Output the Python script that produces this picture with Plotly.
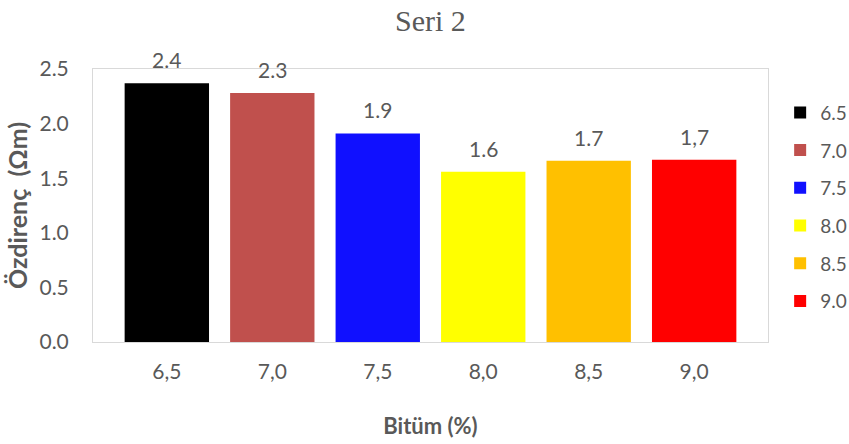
import plotly.graph_objects as go

# Bitumen content (%) categories and measured resistivity values
categories = ["6,5", "7,0", "7,5", "8,0", "8,5", "9,0"]
series_names = ["6.5", "7.0", "7.5", "8.0", "8.5", "9.0"]
resistivity = [2.37, 2.28, 1.91, 1.56, 1.66, 1.67]
value_labels = ["2.4", "2.3", "1.9", "1.6", "1.7", "1,7"]
colors = ["#000000", "#C0504D", "#1010FF", "#FFFF00", "#FFC000", "#FF0000"]

FONT = "Lato, Calibri, Carlito, sans-serif"
GREY = "#595959"

fig = go.Figure()
for cat, name, val, col in zip(categories, series_names, resistivity, colors):
    fig.add_trace(go.Bar(
        x=[cat], y=[val], name=name, legendgroup=name,
        marker=dict(color=col, line=dict(width=0)),
        width=0.80,
    ))

# value labels above each bar
for cat, val, lab in zip(categories, resistivity, value_labels):
    fig.add_annotation(
        x=cat, y=val, text=lab, showarrow=False,
        yanchor="bottom", yshift=9,
        font=dict(family=FONT, size=21, color=GREY),
    )

fig.update_layout(
    width=849, height=444,
    margin=dict(l=93, r=81, t=69, b=102, autoexpand=False),
    paper_bgcolor="white", plot_bgcolor="white",
    barmode="overlay",
    title=dict(text="Seri 2", x=0.507, xanchor="center", y=0.953, yanchor="middle",
               font=dict(family="Liberation Serif, Times New Roman, serif", size=30, color=GREY)),
    showlegend=True,
    legend=dict(
        x=1.018, xanchor="left", y=0.91, yanchor="top",
        font=dict(family=FONT, size=19, color=GREY),
        tracegroupgap=10, traceorder="grouped",
        itemwidth=30, bgcolor="rgba(0,0,0,0)",
    ),
    xaxis=dict(
        type="category", categoryorder="array", categoryarray=categories,
        range=[-0.70, 5.70],
        showline=True, linecolor="#D9D9D9", linewidth=1, mirror=True,
        showgrid=False, ticks="outside", tickcolor="rgba(0,0,0,0)", ticklen=11,
        tickfont=dict(family=FONT, size=21, color=GREY),
        title=dict(text="<b>Bitüm (%)</b>", standoff=36,
                   font=dict(family=FONT, size=22, color=GREY)),
    ),
    yaxis=dict(
        range=[0, 2.5], dtick=0.5, tickformat=".1f",
        showline=True, linecolor="#D9D9D9", linewidth=1, mirror=True,
        showgrid=False, zeroline=False,
        ticks="outside", tickcolor="rgba(0,0,0,0)", ticklen=19,
        tickfont=dict(family=FONT, size=21, color=GREY),
        title=dict(text="<b>Özdirenç  (Ωm)</b>", standoff=4,
                   font=dict(family=FONT, size=25, color=GREY)),
    ),
)

fig.write_html("out.html")
